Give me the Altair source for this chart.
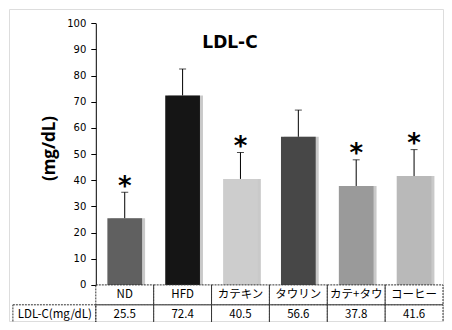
import altair as alt
import pandas as pd

# ---- data ----
groups = ["ND", "HFD", "カテキン", "タウリン", "カテ+タウ", "コーヒー"]
means = [25.5, 72.4, 40.5, 56.6, 37.8, 41.6]
sds = [9.9, 10.1, 10.1, 10.2, 10.0, 10.1]
signif = ["*", "", "*", "", "*", "*"]
y_ticks = [0, 10, 20, 30, 40, 50, 60, 70, 80, 90, 100]
row_label = "LDL-C(mg/dL)"
table_rows = ["name", "value"]

# ---- styling ----
bar_colors = ["#606060", "#151515", "#cdcdcd", "#474747", "#9a9a9a", "#b9b9b9"]
W, H = 434, 312
AX = 86.8            # y-axis position inside the frame
Y0, Y100 = 275.9, 14.2
TBL_BOTTOM = 315.7
JP = "Noto Sans CJK JP"

df = pd.DataFrame({"group": groups, "mean": means, "sd": sds, "sig": signif})
df["upper"] = df["mean"] + df["sd"]

tbl = pd.DataFrame(
    [{"group": g, "row": "name", "label": g} for g in groups]
    + [{"group": g, "row": "value", "label": f"{m:.1f}"} for g, m in zip(groups, means)]
)
lbl = pd.DataFrame({"row": ["value"], "label": [row_label]})

xs = alt.Scale(domain=groups, range=[AX, W], paddingInner=0, paddingOuter=0)
ys = alt.Scale(domain=[0, 100], range=[Y0, Y100], nice=False, zero=True)
ts = alt.Scale(domain=table_rows, range=[Y0, TBL_BOTTOM], paddingInner=0, paddingOuter=0)

X = alt.X("group:N", scale=xs, axis=None, sort=groups)

y_axis = alt.Axis(
    values=y_ticks,
    offset=-AX,
    grid=False,
    domainColor="black",
    tickColor="black",
    tickSize=5,
    labelPadding=5,
    labelFont="DejaVu Sans",
    labelFontSize=10,
    labelColor="black",
    titleFont="Open Sans",
    titleFontSize=17,
    titleFontWeight="bold",
    titleColor="black",
    titleAngle=-90,
    titleBaseline="middle",
    titleX=-46,
    titleY=139,
)

base = alt.Chart(df)

shadow = base.mark_bar(color="#c9c9c9", xOffset=3, width=alt.RelativeBandSize(0.6)).encode(
    x=X, y=alt.Y("mean:Q", scale=ys, title="(mg/dL)", axis=y_axis)
)

bars = base.mark_bar(width=alt.RelativeBandSize(0.6)).encode(
    x=X,
    y=alt.Y("mean:Q", scale=ys, title="(mg/dL)", axis=y_axis),
    color=alt.Color("group:N", scale=alt.Scale(domain=groups, range=bar_colors), legend=None),
)

err = base.mark_rule(color="black", strokeWidth=1).encode(
    x=X, y=alt.Y("mean:Q", scale=ys, title="(mg/dL)", axis=y_axis), y2="upper:Q"
)
caps = base.mark_tick(orient="horizontal", size=7, thickness=1, color="black").encode(
    x=X, y=alt.Y("upper:Q", scale=ys, title="(mg/dL)", axis=y_axis)
)
stars = (
    base.transform_filter("datum.sig != ''")
    .transform_calculate(star="datum.upper + 5.2")
    .mark_text(font="DejaVu Sans", fontSize=26, fontWeight="bold", color="black", baseline="middle", dy=8)
    .encode(x=X, y=alt.Y("star:Q", scale=ys, title="(mg/dL)", axis=y_axis), text="sig:N")
)

plot = alt.layer(shadow, bars, err, caps, stars)

cells = alt.Chart(tbl).mark_rect(
    fillOpacity=0, stroke="#333333", strokeWidth=1, strokeDash=[2, 1]
).encode(x=X, y=alt.Y("row:N", scale=ts, axis=None))

cell_text = alt.Chart(tbl).mark_text(font=JP, fontSize=11.5, color="black").encode(
    x=X, y=alt.Y("row:N", scale=ts, axis=None), text="label:N"
)

label_cell = alt.Chart(lbl).mark_rect(
    fillOpacity=0, stroke="#333333", strokeWidth=1, strokeDash=[2, 1]
).encode(x=alt.value(3.9), x2=alt.value(AX), y=alt.Y("row:N", scale=ts, axis=None))

label_text = alt.Chart(lbl).mark_text(font=JP, fontSize=11.5, color="black", align="right").encode(
    x=alt.value(AX - 4), y=alt.Y("row:N", scale=ts, axis=None), text="label:N"
)

table = alt.layer(cells, cell_text, label_cell, label_text)

chart = (
    alt.layer(plot, table)
    .resolve_scale(y="independent")
    .resolve_axis(y="independent")
    .properties(
        width=W,
        height=H,
        padding=1,
        autosize=alt.AutoSizeParams(type="none"),
        title=alt.TitleParams(
            "LDL-C",
            font="DejaVu Sans",
            fontSize=17,
            fontWeight="bold",
            color="black",
            anchor="middle",
            baseline="alphabetic",
            offset=-56,
            dx=4,
        ),
    )
    .configure_view(stroke="#8a8a8a", strokeDash=[1, 1], strokeWidth=1)
    .configure(background="white")
)

chart.save("out.html", embed_options={"renderer": "svg", "actions": False})
